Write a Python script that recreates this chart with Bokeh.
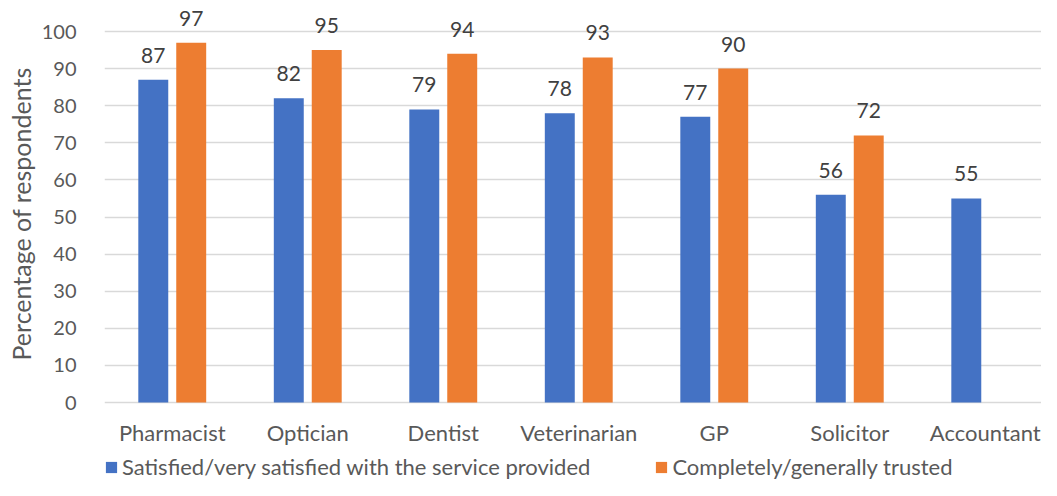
import numpy as np
from bokeh.plotting import figure
from bokeh.models import (ColumnDataSource, Range1d, FixedTicker, LabelSet,
                          Legend, LegendItem, Title)
from bokeh.core.properties import value
from bokeh.transform import dodge
from bokeh.embed import file_html
from bokeh.resources import INLINE

categories = ["Pharmacist", "Optician", "Dentist", "Veterinarian", "GP",
              "Solicitor", "Accountant"]
satisfied = [87, 82, 79, 78, 77, 56, 55]
trusted = [97, 95, 94, 93, 90, 72, None]
series_names = ["Satisfied/very satisfied with the service provided",
                "Completely/generally trusted"]
y_ticks = [0, 10, 20, 30, 40, 50, 60, 70, 80, 90, 100]
y_title = "Percentage of respondents"

BLUE = "#4472C4"
ORANGE = "#ED7D31"
TXT = "#595959"
FONT = "Lato"

idx = list(range(len(categories)))
src = ColumnDataSource(dict(
    x=idx,
    sat=satisfied,
    tru=[np.nan if v is None else v for v in trusted],
))
cat_lbl = ColumnDataSource(dict(x=idx, y=[0] * len(idx), t=categories))
sat_lbl = ColumnDataSource(dict(x=idx, y=satisfied, t=[str(v) for v in satisfied]))
tru_idx = [i for i, v in zip(idx, trusted) if v is not None]
tru_vals = [v for v in trusted if v is not None]
tru_lbl = ColumnDataSource(dict(x=tru_idx, y=tru_vals, t=[str(v) for v in tru_vals]))

p = figure(frame_width=937, frame_height=480, output_backend="svg",
           toolbar_location=None, x_axis_location=None,
           x_range=Range1d(-0.5, 6.415), y_range=Range1d(-21.02, 108.36),
           min_border_left=104, min_border_right=0, min_border_top=0,
           min_border_bottom=0)
p.outline_line_color = None

OFF = 0.14
W = 0.221
r1 = p.vbar(x=dodge("x", -OFF), top="sat", width=W, source=src,
            fill_color=BLUE, line_color=None)
r2 = p.vbar(x=dodge("x", OFF), top="tru", width=W, source=src,
            fill_color=ORANGE, line_color=None)

for s, off in ((sat_lbl, -OFF), (tru_lbl, OFF)):
    p.add_layout(LabelSet(x=dodge("x", off), y="y", text="t",
                          source=s, text_align="center",
                          text_baseline="alphabetic", y_offset=17,
                          text_font=value(FONT), text_font_size=value("21px"),
                          text_color=value("#404040")))

p.add_layout(LabelSet(x="x", y="y", text="t", source=cat_lbl,
                      text_align="center", text_baseline="middle",
                      y_offset=-30, text_font=value(FONT),
                      text_font_size=value("22px"), text_color=value(TXT)))

p.xgrid.grid_line_color = None
p.ygrid.ticker = FixedTicker(ticks=y_ticks)
p.ygrid.grid_line_color = "#D9D9D9"
p.ygrid.grid_line_width = 1.3

p.yaxis.ticker = FixedTicker(ticks=y_ticks)
p.yaxis.axis_line_color = None
p.yaxis.major_tick_line_color = None
p.yaxis.minor_tick_line_color = None
p.yaxis.major_label_standoff = 22
p.yaxis.major_label_text_font = FONT
p.yaxis.major_label_text_font_size = "20px"
p.yaxis.major_label_text_color = TXT

title = Title(text=y_title, align="left", offset=120, standoff=5,
              text_font=FONT, text_font_size="25px", text_font_style="normal",
              text_color=TXT)
p.add_layout(title, "left")

legend = Legend(items=[LegendItem(label=series_names[0], renderers=[r1]),
                       LegendItem(label=series_names[1], renderers=[r2])],
                orientation="horizontal", location=(0, 0), margin=0,
                padding=0, spacing=64, glyph_width=14, glyph_height=14,
                label_standoff=4, border_line_color=None,
                background_fill_alpha=0,
                label_text_font=FONT, label_text_font_size="22px",
                label_text_color=TXT)
p.add_layout(legend, "center")

open("out.html", "w").write(file_html(p, INLINE))
